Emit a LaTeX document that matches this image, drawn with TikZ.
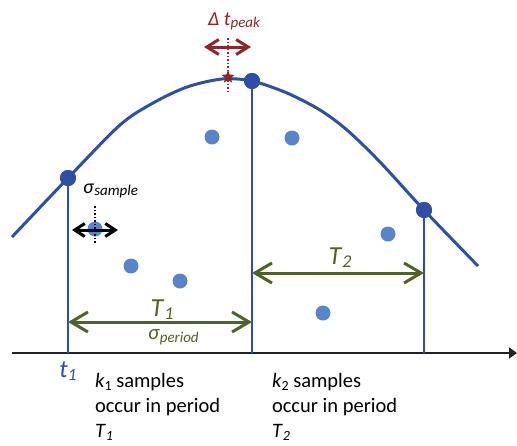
\documentclass[tikz,border=0pt]{standalone}
\usepackage{fontspec}
\setmainfont{Carlito}
\usetikzlibrary{arrows.meta,shapes.geometric}
\definecolor{curveblue}{RGB}{47,79,165}
\definecolor{sampleblue}{RGB}{88,132,202}
\definecolor{pgreen}{RGB}{79,98,40}
\definecolor{pred}{RGB}{140,40,40}
\definecolor{axisgray}{RGB}{34,34,34}
\newcommand{\lowsub}[2]{\raisebox{-0.3ex}{\fontsize{#1}{#1}\selectfont #2}}
\begin{document}
\begin{tikzpicture}[x=1pt,y=-1pt,
  curvedot/.style={circle,fill=curveblue,inner sep=0,minimum size=16},
  sampledot/.style={circle,fill=sampleblue,inner sep=0,minimum size=15},
  periodline/.style={draw=curveblue,line width=2.5},
  spanarrow/.style={pgreen,line width=3,{Straight Barb[length=17,width=20]}-{Straight Barb[length=17,width=20]}},
  peakarrow/.style={pred,line width=3,{Straight Barb[length=12,width=15]}-{Straight Barb[length=12,width=15]}},
  samplearrow/.style={black,line width=3,{Straight Barb[length=10,width=13]}-{Straight Barb[length=10,width=13]}},
  lbl/.style={inner sep=0,outer sep=0},
  bodytext/.style={lbl,align=left,font=\fontsize{20.5}{25}\selectfont}
]
\useasboundingbox (0,0) rectangle (517,445);
% axis
\coordinate (ax0) at (12,353);
\coordinate (ax1) at (517,353);
\draw[axisgray,line width=2.5,-{Triangle[length=8,width=11]}] (ax0) -- (ax1);
% curve dots
\node[curvedot] (d1) at (68,178) {};
\node[curvedot] (d2) at (252,81) {};
\node[curvedot] (d3) at (424,210) {};
% period lines
\draw[periodline] (d1.center) -- (d1.center |- ax0);
\draw[periodline] (d2.center) -- (d2.center |- ax0);
\draw[periodline] (d3.center) -- (d3.center |- ax0);
% curve
\draw[curveblue,line width=3] plot[smooth,tension=0.5] coordinates
  {(12,237) (68,178) (120,125) (153,103) (187,87) (222,79) (252,81) (287,93) (320,110) (347,130) (380,162) (424,210) (478,266)};
\node[curvedot] at (d1) {};
\node[curvedot] at (d2) {};
\node[curvedot] at (d3) {};
% samples
\node[sampledot] (s1) at (95,229) {};
\node[sampledot] (s2) at (131,266) {};
\node[sampledot] (s3) at (180,281) {};
\node[sampledot] (s4) at (212,137) {};
\node[sampledot] (s5) at (292,138) {};
\node[sampledot] (s6) at (323,313) {};
\node[sampledot] (s7) at (388,234) {};
% sigma sample
\coordinate (sa0) at (72,230);
\coordinate (sa1) at (118,230);
\draw[samplearrow] (sa0) -- (sa1);
\coordinate (sv0) at (95,206);
\coordinate (sv1) at (95,244);
\draw[black,line width=1.5,dotted] (sv0) -- (sv1);
\node[lbl,anchor=base west] (sigs) at (83,193) {\fontsize{20}{20}\selectfont\textit{σ}\lowsub{15}{\textit{sample}}};
% peak
\coordinate (pv0) at (228,38);
\coordinate (pv1) at (228,93);
\draw[pred,line width=1.5,dotted] (pv0) -- (pv1);
\node[star,star points=5,star point ratio=2.4,fill=pred,inner sep=0,minimum size=14] (peak) at (228,77) {};
\coordinate (pa0) at (204,47);
\coordinate (pa1) at (251,47);
\draw[peakarrow] (pa0) -- (pa1);
\node[lbl,anchor=base west,text=pred] (dtp) at (208,25) {\fontsize{20}{20}\selectfont\textit{Δ t}\lowsub{15}{\textit{peak}}};
% periods
\draw[spanarrow] (d1.center |- 0,322) -- (d2.center |- 0,322);
\node[lbl,anchor=base,text=pgreen] (T1) at (162,316) {\fontsize{26}{26}\selectfont\textit{T}\lowsub{18}{\textit{1}}};
\node[lbl,anchor=base west,text=pgreen] (sigp) at (148,339) {\fontsize{21}{21}\selectfont\textit{σ}\lowsub{15}{\textit{period}}};
\draw[spanarrow] (d2.center |- 0,273) -- (d3.center |- 0,273);
\node[lbl,anchor=base,text=pgreen] (T2) at (340,264) {\fontsize{26}{26}\selectfont\textit{T}\lowsub{18}{\textit{2}}};
% t1
\node[lbl,anchor=base,text=curveblue] (t1) at (68,377) {\fontsize{25}{25}\selectfont\textit{t}\lowsub{17}{\textit{1}}};
% texts
\node[bodytext,anchor=north west] (k1) at (95,373) {\textit{k}\lowsub{14}{1} samples\\occur in period\\\textit{T}\lowsub{14}{\textit{1}}};
\node[bodytext,anchor=north west] (k2) at (272,373) {\textit{k}\lowsub{14}{2} samples\\occur in period\\\textit{T}\lowsub{14}{\textit{2}}};
\end{tikzpicture}
\end{document}
